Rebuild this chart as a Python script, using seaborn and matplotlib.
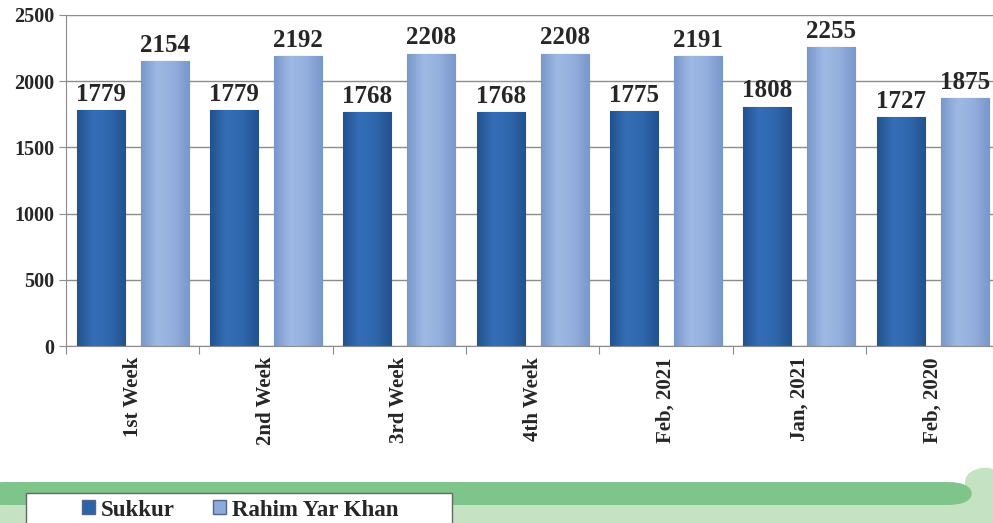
import numpy as np
import pandas as pd
import matplotlib.pyplot as plt
import matplotlib.patches as mpatches
from matplotlib.colors import LinearSegmentedColormap
import seaborn as sns

# data
periods = ["1st Week", "2nd Week", "3rd Week", "4th Week", "Feb, 2021", "Jan, 2021", "Feb, 2020"]
sukkur = [1779, 1779, 1768, 1768, 1775, 1808, 1727]
rahim_yar_khan = [2154, 2192, 2208, 2208, 2191, 2255, 1875]
cities = ["Sukkur", "Rahim Yar Khan"]

df = pd.DataFrame({
    "Period": periods * 2,
    "City": [cities[0]] * len(periods) + [cities[1]] * len(periods),
    "Price": sukkur + rahim_yar_khan,
})

sns.set_style("white")
plt.rcParams["font.family"] = ["Liberation Serif", "DejaVu Serif"]
plt.rcParams["font.weight"] = "bold"

W, H = 993, 523
fig = plt.figure(figsize=(W / 100, H / 100), dpi=100)
ax = fig.add_axes([66 / W, 1 - 346 / H, 0.94, (346 - 15) / H])

colors = {"Sukkur": "#2d63a8", "Rahim Yar Khan": "#8eaadb"}
sns.barplot(data=df, x="Period", y="Price", hue="City", palette=colors, saturation=1,
            width=0.96, gap=0.25, edgecolor="#4f6688", linewidth=0.8,
            legend=False, ax=ax)

# shaded look: slightly darker edges, lighter middle, clipped to each bar
shades = {
    "Sukkur": ["#22528f", "#356eb6", "#2f67ad", "#22528f"],
    "Rahim Yar Khan": ["#7897cb", "#9fb9e4", "#93afdd", "#7897cb"],
}
grad = np.linspace(0, 1, 64).reshape(1, -1)
for cont, city in zip(ax.containers, cities):
    cmap = LinearSegmentedColormap.from_list(city, shades[city])
    for bar in cont:
        x0, w, h = bar.get_x(), bar.get_width(), bar.get_height()
        im = ax.imshow(grad, cmap=cmap, aspect="auto", extent=(x0, x0 + w, 0, h),
                       zorder=bar.get_zorder() + 0.1, interpolation="bicubic")
        im.set_clip_path(bar)
    ax.bar_label(cont, fmt="%d", padding=3, fontsize=18, fontweight="bold")

ax.set_ylim(0, 2500)
ax.set_yticks(range(0, 2501, 500))
ax.set_xlim(-0.5, len(periods) - 0.5)
ax.set_aspect("auto")
ax.yaxis.grid(True, color="#8c8c8c", linewidth=1)
ax.set_axisbelow(True)
ax.set_xlabel("")
ax.set_ylabel("")
for side in ["top", "right"]:
    ax.spines[side].set_visible(False)
for side in ["left", "bottom"]:
    ax.spines[side].set_color("#8c8c8c")

# tick marks between the groups, labels at group centers
ax.set_xticks([i - 0.5 for i in range(len(periods) + 1)], minor=False)
ax.set_xticklabels([""] * (len(periods) + 1))
ax.set_xticks(range(len(periods)), minor=True)
ax.set_xticklabels(periods, minor=True, rotation=90, fontsize=15, fontweight="bold")
ax.tick_params(axis="x", which="major", length=6, color="#8c8c8c", bottom=True)
ax.tick_params(axis="x", which="minor", length=0, pad=8)
ax.tick_params(axis="y", labelsize=14.5, length=5, color="#8c8c8c", left=True)
for lbl in ax.get_yticklabels():
    lbl.set_fontweight("bold")

# green band along the bottom
fig.patches.append(mpatches.Rectangle((0, 0), 1, 23 / H, transform=fig.transFigure,
                                      facecolor="#c5e3c3", edgecolor="none", zorder=0))
fig.patches.append(mpatches.FancyBboxPatch((965 / W, 0), 40 / W, 56 / H, transform=fig.transFigure,
                                           boxstyle="round,pad=0,rounding_size=0.03",
                                           facecolor="#c5e3c3", edgecolor="none", zorder=0))
fig.patches.append(mpatches.FancyBboxPatch((-20 / W, 18 / H), 992 / W, 23 / H, transform=fig.transFigure,
                                           boxstyle="round,pad=0,rounding_size=0.025",
                                           facecolor="#7fc48a", edgecolor="none", zorder=0))

# legend box
fig.patches.append(mpatches.Rectangle((26 / W, -0.01), (452 - 26) / W, 30 / H + 0.01,
                                      transform=fig.transFigure, facecolor="white",
                                      edgecolor="#666666", linewidth=1.0, zorder=1))
handles = [mpatches.Patch(facecolor=colors[c], edgecolor="#4f6688") for c in cities]
leg = fig.legend(handles, cities, loc="center left", bbox_to_anchor=(82 / W, 1 - 510 / H),
                 ncol=2, frameon=False, borderaxespad=0, borderpad=0,
                 handlelength=0.55, handleheight=0.55, handletextpad=0.25,
                 columnspacing=1.7, prop={"weight": "bold", "size": 16.5})
leg.set_zorder(2)

fig.savefig("out.png", dpi=100)
